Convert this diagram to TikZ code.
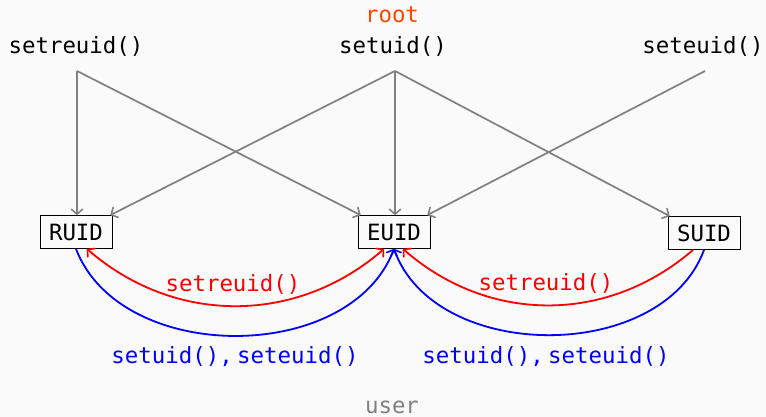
\documentclass[tikz,border=0pt]{standalone}
\usepackage{fontspec}
\setmonofont{DejaVu Sans Mono}
\usetikzlibrary{calc,arrows.meta}
\definecolor{bgcol}{HTML}{FAFAFA}
\definecolor{rootcol}{HTML}{FF4500}
\definecolor{linegray}{HTML}{808080}
\tikzset{bigtip/.tip={Straight Barb[length=5pt,width=11pt,line width=1.6pt,round]}}
\begin{document}
\begin{tikzpicture}[x=1pt,y=1pt,
  lbl/.style={font=\ttfamily\fontsize{22.4}{26}\selectfont, inner sep=0pt},
  idbox/.style={draw=black, line width=0.9pt, fill=bgcol, minimum width=72pt, minimum height=33pt, inner sep=0pt, font=\ttfamily\fontsize{22.4}{26}\selectfont},
  feed/.style={draw=linegray, line width=1.7pt, -bigtip},
  redarc/.style={draw=red, line width=1.8pt},
  bluearc/.style={draw=blue, line width=1.8pt, -bigtip}]
  % canvas
  \fill[bgcol] (0,0) rectangle (766,417);
  \useasboundingbox (0,0) rectangle (766,417);

  % privilege levels
  \node[lbl, text=rootcol] (root) at (392,402) {root};
  \node[lbl, text=linegray] (user) at (392,10) {user};

  % system calls
  \node[lbl] (csetreuid) at (76,371) {setreuid()};
  \node[lbl] (csetuid) at (393,371) {setuid()};
  \node[lbl] (cseteuid) at (703,371) {seteuid()};
  \coordinate (s1) at (77,346);
  \coordinate (s2) at (395,346);
  \coordinate (s3) at (705,346);

  % user IDs
  \node[idbox] (ruid) at (76,185) {RUID};
  \node[idbox] (euid) at (394,185) {EUID};
  \node[idbox] (suid) at (704,184) {SUID};

  % what each call may set as root
  \draw[feed] (s1) -- (s1 |- ruid.north);
  \draw[feed] (s1) -- ($(euid.north west)+(3,0)$);
  \draw[feed] (s2) -- ($(ruid.north east)+(-2,0)$);
  \draw[feed] (s2) -- (s2 |- euid.north);
  \draw[feed] (s2) -- ($(suid.north west)+(2,0)$);
  \draw[feed] (s3) -- ($(euid.north east)+(-3,0)$);

  % unprivileged transitions
  \draw[redarc, bigtip-bigtip] ($(euid.south)+(-10,0)$) to[bend left=41] ($(ruid.south)+(11,0)$);
  \draw[redarc, -bigtip] ($(suid.south)+(-11,0)$) to[bend left=41] ($(euid.south)+(9,0)$);
  \draw[bluearc] (ruid.south) to[bend right=69] (euid.south);
  \draw[bluearc] (suid.south) to[bend left=70] (euid.south);

  \node[lbl, text=red] (lred) at (233,133) {setreuid()};
  \node[lbl, text=red] (rred) at (546,134) {setreuid()};
  \node[lbl, text=blue] (lblue) at (235,60) {setuid(),\hspace{0.2em}seteuid()};
  \node[lbl, text=blue] (rblue) at (546,60) {setuid(),\hspace{0.2em}seteuid()};
\end{tikzpicture}
\end{document}
